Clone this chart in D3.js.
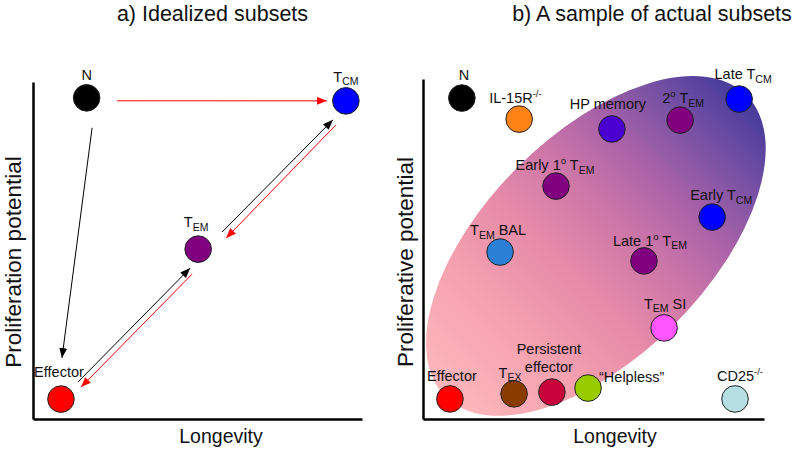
<!DOCTYPE html>
<html>
<head>
<meta charset="utf-8">
<script src="https://cdn.jsdelivr.net/npm/d3@7"></script>
<style>
  body { margin: 0; background: #fff; }
  svg { display: block; font-family: "Liberation Sans", Arial, sans-serif; }
</style>
</head>
<body>
<svg id="chart" width="800" height="450"></svg>
<script>
// ---------- DATA ----------
// Panel a) idealized subsets (x = longevity, y = proliferation potential, 0-100)
const idealNames = ["N", "TCM", "TEM", "Effector"];
const idealX = [16.3, 95.1, 50.2, 8.5];
const idealY = [95.3, 94.4, 50.4, 5.9];
const idealColors = ["#000000", "#0000ff", "#800080", "#ff0000"];

// transitions between idealized subsets
const arrowFrom = ["N", "N", "Effector", "TEM", "TEM", "TCM"];
const arrowTo = ["TCM", "Effector", "TEM", "Effector", "TCM", "TEM"];
const arrowColors = ["#ff0000", "#000000", "#000000", "#ff0000", "#000000", "#ff0000"];

// Panel b) actual subsets
const actualNames = ["N", "IL-15R", "HP memory", "2 TEM", "Late TCM", "Early 1 TEM",
  "Early TCM", "TEM BAL", "Late 1 TEM", "TEM SI", "Effector", "TEX",
  "Persistent effector", "Helpless", "CD25"];
const actualX = [11.4, 28.2, 55.4, 75.4, 92.7, 39.0, 84.8, 22.6, 64.8, 70.7, 7.9, 26.7, 37.8, 48.4, 91.5];
const actualY = [94.4, 88.2, 85.3, 87.9, 94.1, 68.5, 59.4, 49.1, 46.5, 26.8, 5.9, 7.4, 7.9, 9.1, 5.9];
const actualColors = ["#000000", "#ff8214", "#4a00d0", "#800080", "#0000ff", "#800080",
  "#0000ff", "#2b80d6", "#800080", "#ff55ff", "#ff0000", "#8a3c00",
  "#c8003c", "#99cc00", "#b5dfe2"];

// label text pieces: [text, kind] kind: "" normal, "sub", "sup"
const labelText = {
  "N": [["N", ""]],
  "TCM": [["T", ""], ["CM", "sub"]],
  "TEM": [["T", ""], ["EM", "sub"]],
  "Effector": [["Effector", ""]],
  "IL-15R": [["IL-15R", ""], ["-/-", "sup"]],
  "HP memory": [["HP memory", ""]],
  "2 TEM": [["2", ""], ["o", "sup"], [" T", ""], ["EM", "sub"]],
  "Late TCM": [["Late T", ""], ["CM", "sub"]],
  "Early 1 TEM": [["Early 1", ""], ["o", "sup"], [" T", ""], ["EM", "sub"]],
  "Early TCM": [["Early T", ""], ["CM", "sub"]],
  "TEM BAL": [["T", ""], ["EM", "sub"], [" BAL", ""]],
  "Late 1 TEM": [["Late 1", ""], ["o", "sup"], [" T", ""], ["EM", "sub"]],
  "TEM SI": [["T", ""], ["EM", "sub"], [" SI", ""]],
  "TEX": [["T", ""], ["EX", "sub"]],
  "Persistent effector": [["Persistent", "line1"], ["effector", "line2"]],
  "Helpless": [["\u201cHelpless\u201d", ""]],
  "CD25": [["CD25", ""], ["-/-", "sup"]]
};

// ---------- LAYOUT (positions / styles) ----------
const svg = d3.select("#chart");
const R = 13.3;
const FONT_LABEL = 14.5;

// label offsets relative to circle centre: [dx, dy(baseline), anchor]
const idealLabelPos = {
  "N": [0, -18, "middle"], "TCM": [0, -19, "middle"],
  "TEM": [-2, -22, "middle"], "Effector": [-2, -22, "middle"]
};
const actualLabelPos = {
  "N": [2, -18, "middle"], "IL-15R": [-30, -16, "start"], "HP memory": [-4, -20, "middle"],
  "2 TEM": [3, -17, "middle"], "Late TCM": [4, -20, "middle"], "Early 1 TEM": [-1, -16, "middle"],
  "Early TCM": [9, -17, "middle"], "TEM BAL": [-2, -17, "middle"], "Late 1 TEM": [6, -15, "middle"],
  "TEM SI": [1, -19, "middle"], "Effector": [2, -18, "middle"], "TEX": [-4, -16, "middle"],
  "Persistent effector": [-3, -38, "middle"], "Helpless": [11, -6, "start"], "CD25": [5, -18, "middle"]
};
// arrow geometry: [trimStart, trimEnd, perpOffsetStart, perpOffsetEnd]
const arrowGeom = [
  [30.5, 19, 2.6, 0.2],
  [29.4, 41, -8, 2.5],
  [24, 19.4, 1, 6.9],
  [22.5, 22.4, -12.4, -6.7],
  [29, 22.6, 4.9, 4.2],
  [24, 27.6, -9.9, -12]
];

// scales
const xa = d3.scaleLinear().domain([0, 100]).range([33, 362]);
const ya = d3.scaleLinear().domain([0, 100]).range([419, 82]);
const xb = d3.scaleLinear().domain([0, 100]).range([423, 764]);
const yb = d3.scaleLinear().domain([0, 100]).range([419, 79]);

// defs
const defs = svg.append("defs");
["#000000", "#ff0000"].forEach((c, i) => {
  defs.append("marker")
    .attr("id", "arr" + i)
    .attr("viewBox", "0 0 10 8")
    .attr("refX", 10).attr("refY", 4)
    .attr("markerWidth", 10).attr("markerHeight", 8)
    .attr("markerUnits", "userSpaceOnUse")
    .attr("orient", "auto")
    .append("path").attr("d", "M0,0L10,4L0,8Z").attr("fill", c);
});

// ellipse geometry (rotated frame)
const ellCx = 50.7, ellCy = 50.9, ellRx = 213, ellRy = 111, ellAngle = -45;
const grad = defs.append("linearGradient")
  .attr("id", "ellGrad").attr("gradientUnits", "userSpaceOnUse")
  .attr("x1", -ellRx).attr("y1", 0).attr("x2", ellRx).attr("y2", 0);
[[0, "#fdb7bb"], [0.22, "#f6a2b0"], [0.42, "#e58aa8"], [0.58, "#cc76a8"], [0.72, "#a862a8"],
 [0.86, "#7650a4"], [1, "#443b9c"]]
  .forEach(s => grad.append("stop").attr("offset", s[0]).attr("stop-color", s[1]));

// titles
svg.append("text").attr("x", 212.5).attr("y", 21).attr("text-anchor", "middle")
  .attr("font-size", 21.5).attr("fill", "#111").text("a) Idealized subsets");
svg.append("text").attr("x", 652).attr("y", 21).attr("text-anchor", "middle")
  .attr("font-size", 21.5).attr("fill", "#111").text("b) A sample of actual subsets");

// axis titles
function yTitle(x, txt) {
  svg.append("text").attr("transform", `translate(${x},262) rotate(-90)`)
    .attr("text-anchor", "middle").attr("font-size", 22.5).attr("fill", "#111").text(txt);
}
yTitle(21, "Proliferation potential");
yTitle(413, "Proliferative potential");
svg.append("text").attr("x", 221).attr("y", 443).attr("text-anchor", "middle")
  .attr("font-size", 19.5).attr("fill", "#111").text("Longevity");
svg.append("text").attr("x", 615).attr("y", 443).attr("text-anchor", "middle")
  .attr("font-size", 19.5).attr("fill", "#111").text("Longevity");

// ellipse in panel b
svg.append("g")
  .attr("transform", `translate(${xb(ellCx)},${yb(ellCy)}) rotate(${ellAngle})`)
  .append("ellipse")
  .attr("cx", 0).attr("cy", 0)
  .attr("rx", ellRx).attr("ry", ellRy)
  .attr("fill", "url(#ellGrad)");

// axes (no ticks)
function drawAxis(gen, tx, ty) {
  const g = svg.append("g").attr("transform", `translate(${tx},${ty})`).call(gen);
  g.select(".domain").attr("stroke", "#000").attr("stroke-width", 2.5);
}
drawAxis(d3.axisBottom(xa).tickValues([]).tickSizeOuter(0), 0, ya(0));
drawAxis(d3.axisLeft(ya).tickValues([]).tickSizeOuter(0), xa(0), 0);
drawAxis(d3.axisBottom(xb).tickValues([]).tickSizeOuter(0), 0, yb(0));
drawAxis(d3.axisLeft(yb).tickValues([]).tickSizeOuter(0), xb(0), 0);

// label writer
function writeLabel(cx, cy, name, pos) {
  const parts = labelText[name];
  const [dx, dy, anchor] = pos;
  if (parts[0][1] === "line1") {
    parts.forEach((p, i) => {
      svg.append("text").attr("x", cx + dx).attr("y", cy + dy + i * 18)
        .attr("text-anchor", anchor).attr("font-size", FONT_LABEL).attr("fill", "#111").text(p[0]);
    });
    return;
  }
  const t = svg.append("text").attr("x", cx + dx).attr("y", cy + dy)
    .attr("text-anchor", anchor).attr("font-size", FONT_LABEL).attr("fill", "#111");
  let shift = 0;
  parts.forEach(p => {
    const ts = t.append("tspan").text(p[0]);
    let target = 0;
    if (p[1] === "sub") { ts.attr("font-size", 10.5); target = 3.5; }
    if (p[1] === "sup") { ts.attr("font-size", 9.5); target = -6; }
    ts.attr("dy", target - shift);
    shift = target;
  });
}

// panel a: arrows
const idealPos = {};
idealNames.forEach((n, i) => idealPos[n] = [xa(idealX[i]), ya(idealY[i])]);
arrowFrom.forEach((f, i) => {
  const a = idealPos[f], b = idealPos[arrowTo[i]];
  const L = Math.hypot(b[0] - a[0], b[1] - a[1]);
  const ux = (b[0] - a[0]) / L, uy = (b[1] - a[1]) / L;
  const px = -uy, py = ux;
  const [t1, t2, o1, o2] = arrowGeom[i];
  svg.append("line")
    .attr("x1", a[0] + ux * t1 + px * o1).attr("y1", a[1] + uy * t1 + py * o1)
    .attr("x2", b[0] - ux * t2 + px * o2).attr("y2", b[1] - uy * t2 + py * o2)
    .attr("stroke", arrowColors[i]).attr("stroke-width", 1)
    .attr("marker-end", `url(#arr${arrowColors[i] === "#000000" ? 0 : 1})`);
});

// panel a: circles + labels
idealNames.forEach((n, i) => {
  svg.append("circle").attr("cx", xa(idealX[i])).attr("cy", ya(idealY[i])).attr("r", R)
    .attr("fill", idealColors[i]).attr("stroke", "#222").attr("stroke-width", 1);
  writeLabel(xa(idealX[i]), ya(idealY[i]), n, idealLabelPos[n]);
});

// panel b: circles + labels
actualNames.forEach((n, i) => {
  svg.append("circle").attr("cx", xb(actualX[i])).attr("cy", yb(actualY[i])).attr("r", R)
    .attr("fill", actualColors[i]).attr("stroke", "#222").attr("stroke-width", 1);
  writeLabel(xb(actualX[i]), yb(actualY[i]), n, actualLabelPos[n]);
});
</script>
</body>
</html>
